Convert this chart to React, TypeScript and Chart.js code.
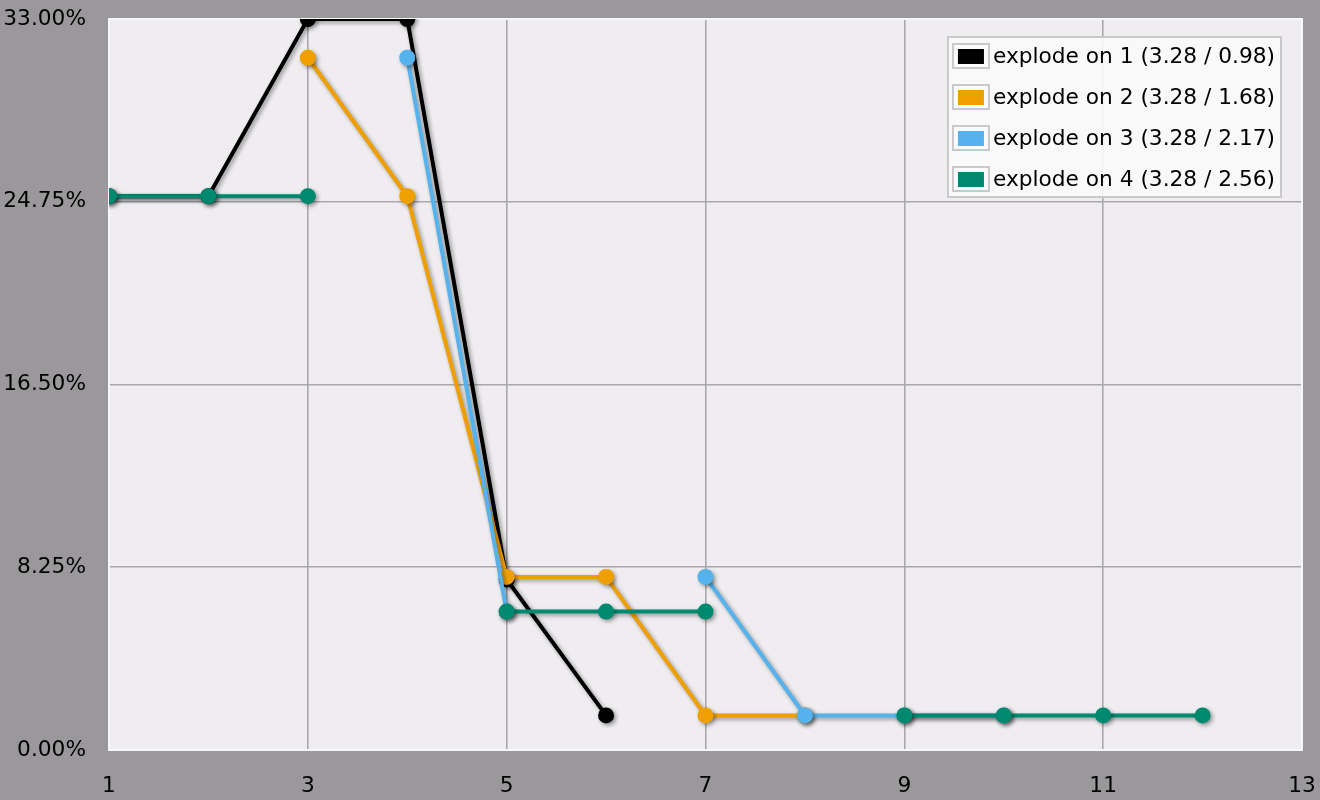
import React, { useEffect, useRef } from "react";
import { Chart, registerables } from "chart.js";

Chart.register(...registerables);

const xValues = [1, 2, 3, 4, 5, 6, 7, 8, 9, 10, 11, 12];
const seriesLabels = [
  "explode on 1 (3.28 / 0.98)",
  "explode on 2 (3.28 / 1.68)",
  "explode on 3 (3.28 / 2.17)",
  "explode on 4 (3.28 / 2.56)",
];
const explode1 = [25, 25, 33, 33, 7.7, 1.5625, null, null, null, null, null, null];
const explode2 = [null, null, 31.25, 25, 7.8125, 7.8125, 1.5625, 1.5625, null, null, null, null];
const explode3 = [null, null, null, 31.25, 6.25, null, 7.8125, 1.5625, 1.5625, 1.5625, null, null];
const explode4 = [25, 25, 25, null, 6.25, 6.25, 6.25, null, 1.5625, 1.5625, 1.5625, 1.5625];
const seriesColors = ["#000000", "#F09F00", "#55B2EC", "#00896F"];
const yTicks = [0, 8.25, 16.5, 24.75, 33];
const xTicks = [1, 3, 5, 7, 9, 11, 13];

const FONT = "DejaVu Sans";
const FONT_SIZE = 21.7;

export default function App() {
  const ref = useRef<HTMLCanvasElement | null>(null);

  useEffect(() => {
    document.body.style.margin = "0";
    document.body.style.background = "#9a989b";
    const canvas = ref.current;
    if (!canvas) return;

    const series = [explode1, explode2, explode3, explode4];

    const plotBg = {
      id: "plotBg",
      beforeDraw(chart: any) {
        const { ctx, chartArea: a } = chart;
        ctx.save();
        ctx.fillStyle = "#efedf0";
        ctx.fillRect(a.left, a.top, a.right - a.left, a.bottom - a.top);
        ctx.restore();
      },
      beforeDatasetsDraw(chart: any) {
        const { ctx, chartArea: a } = chart;
        ctx.save();
        ctx.strokeStyle = "#f7f6f8";
        ctx.lineWidth = 2;
        ctx.strokeRect(a.left, a.top, a.right - a.left, a.bottom - a.top);
        ctx.restore();
      },
    };

    const shadow = {
      id: "shadow",
      beforeDatasetDraw(chart: any) {
        const ctx = chart.ctx;
        ctx.save();
        ctx.shadowColor = "rgba(0,0,0,0.4)";
        ctx.shadowBlur = 4;
        ctx.shadowOffsetX = 2;
        ctx.shadowOffsetY = 2;
      },
      afterDatasetDraw(chart: any) {
        chart.ctx.restore();
      },
    };

    const boxLegend = {
      id: "boxLegend",
      afterDraw(chart: any) {
        const { ctx, chartArea: a } = chart;
        const ds = chart.data.datasets;
        ctx.save();
        ctx.font = `${FONT_SIZE}px "${FONT}"`;
        let tw = 0;
        ds.forEach((d: any) => {
          tw = Math.max(tw, ctx.measureText(d.label).width);
        });
        const rowH = 41;
        const boxW = 45 + tw + 6;
        const boxH = rowH * ds.length - 4;
        const right = a.right - 21;
        const left = right - boxW;
        const top = a.top + 18;
        ctx.fillStyle = "rgba(250,249,251,0.9)";
        ctx.fillRect(left, top, boxW, boxH);
        ctx.strokeStyle = "#c9c8ca";
        ctx.lineWidth = 2;
        ctx.strokeRect(left, top, boxW, boxH);
        ds.forEach((d: any, i: number) => {
          const cy = top + 19 + rowH * i;
          ctx.fillStyle = "#fbfafc";
          ctx.fillRect(left + 5, cy - 12, 36, 24);
          ctx.strokeStyle = "#c9c8ca";
          ctx.lineWidth = 2;
          ctx.strokeRect(left + 5, cy - 12, 36, 24);
          ctx.fillStyle = d.borderColor;
          ctx.fillRect(left + 10, cy - 7, 26, 15);
          ctx.fillStyle = "#000";
          ctx.textAlign = "left";
          ctx.textBaseline = "middle";
          ctx.fillText(d.label, left + 45, cy + 1);
        });
        ctx.restore();
      },
    };

    const noPad = (s: any) => {
      s.paddingTop = 0;
      s.paddingBottom = 0;
      s.paddingLeft = 0;
      s.paddingRight = 0;
    };

    const chart = new Chart(canvas, {
      type: "line",
      data: {
        datasets: series.map((s, i) => ({
          label: seriesLabels[i],
          data: xValues.map((x, j) => ({ x, y: s[j] })),
          borderColor: seriesColors[i],
          backgroundColor: seriesColors[i],
          pointBackgroundColor: seriesColors[i],
          pointBorderWidth: 0,
          pointRadius: 8,
          pointHoverRadius: 8,
          borderWidth: 4,
          tension: 0,
          spanGaps: false,
          fill: false,
          order: series.length - 1 - i,
        })),
      },
      options: {
        animation: false,
        responsive: false,
        devicePixelRatio: 1,
        layout: { padding: { top: 19, right: 18, left: 0, bottom: 0 } },
        plugins: {
          legend: { display: false },
          tooltip: { enabled: false },
        },
        scales: {
          x: {
            type: "linear",
            min: 1,
            max: 13,
            afterBuildTicks: (s: any) => {
              s.ticks = xTicks.map((v) => ({ value: v }));
            },
            afterFit: (s: any) => {
              s.height = 50;
              noPad(s);
            },
            grid: { color: "#a9a8aa", lineWidth: 1.6, drawTicks: false },
            border: { display: false },
            ticks: {
              color: "#000",
              font: { family: FONT, size: FONT_SIZE },
              padding: 23,
              maxRotation: 0,
              autoSkip: false,
              callback: (v: any) => String(v),
            },
          },
          y: {
            type: "linear",
            min: 0,
            max: 33,
            afterBuildTicks: (s: any) => {
              s.ticks = yTicks.map((v) => ({ value: v }));
            },
            afterFit: (s: any) => {
              s.width = 109;
              noPad(s);
            },
            grid: { color: "#a9a8aa", lineWidth: 1.6, drawTicks: false },
            border: { display: false },
            ticks: {
              color: "#000",
              font: { family: FONT, size: FONT_SIZE },
              padding: 23,
              autoSkip: false,
              callback: (v: any) => Number(v).toFixed(2) + "%",
            },
          },
        },
      },
      plugins: [plotBg, shadow, boxLegend],
    });

    return () => chart.destroy();
  }, []);

  return (
    <div style={{ width: 1320, height: 800, background: "#9a989b" }}>
      <canvas ref={ref} width={1320} height={800} />
    </div>
  );
}
